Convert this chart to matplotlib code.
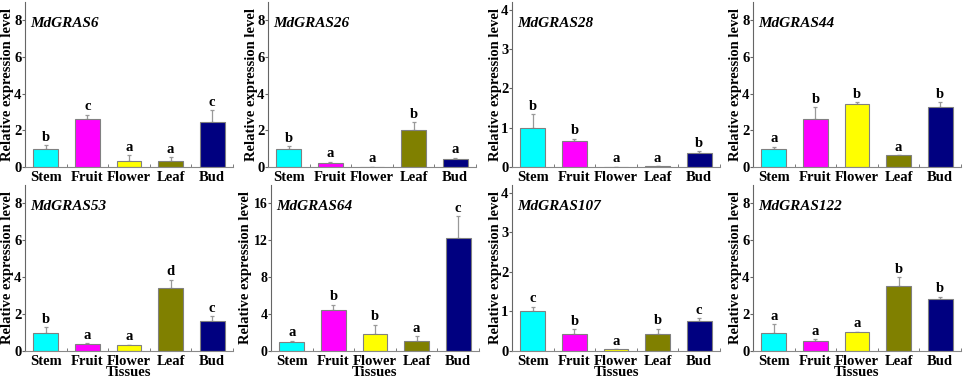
import matplotlib
matplotlib.use("Agg")
import matplotlib.pyplot as plt
import numpy as np

plt.rcParams['font.family'] = ['Liberation Serif', 'DejaVu Serif']
plt.rcParams['font.weight'] = 'bold'

tissues = ["Stem", "Fruit", "Flower", "Leaf", "Bud"]
bar_colors = ["#00FFFF", "#FF00FF", "#FFFF00", "#808000", "#000080"]

genes = ["MdGRAS6", "MdGRAS26", "MdGRAS28", "MdGRAS44",
         "MdGRAS53", "MdGRAS64", "MdGRAS107", "MdGRAS122"]

# mean expression, upper error, significance letters
means = [
    [1.0, 2.6, 0.35, 0.35, 2.45],
    [1.0, 0.2, 0.02, 2.0, 0.45],
    [1.0, 0.65, 0.01, 0.02, 0.35],
    [1.0, 2.6, 3.45, 0.65, 3.25],
    [1.0, 0.38, 0.32, 3.42, 1.6],
    [1.0, 4.4, 1.85, 1.1, 12.3],
    [1.0, 0.42, 0.05, 0.43, 0.76],
    [1.0, 0.55, 1.05, 3.55, 2.8],
]
errors = [
    [0.2, 0.25, 0.3, 0.2, 0.65],
    [0.15, 0.1, 0.0, 0.45, 0.05],
    [0.35, 0.07, 0.0, 0.0, 0.05],
    [0.1, 0.65, 0.1, 0.0, 0.3],
    [0.3, 0.05, 0.03, 0.45, 0.3],
    [0.1, 0.6, 1.0, 0.5, 2.3],
    [0.12, 0.13, 0.0, 0.13, 0.07],
    [0.45, 0.1, 0.0, 0.45, 0.15],
]
letters = [
    ["b", "c", "a", "a", "c"],
    ["b", "a", "a", "b", "a"],
    ["b", "b", "a", "a", "b"],
    ["a", "b", "b", "a", "b"],
    ["b", "a", "a", "d", "c"],
    ["a", "b", "b", "a", "c"],
    ["c", "b", "a", "b", "c"],
    ["a", "a", "a", "b", "b"],
]
ymax = [9, 9, 4.2, 9, 9, 18, 4.2, 9]
yticks = [range(0, 9, 2), range(0, 9, 2), range(0, 5), range(0, 9, 2),
          range(0, 9, 2), range(0, 17, 4), range(0, 5), range(0, 9, 2)]

W, H = 964, 381
fig = plt.figure(figsize=(W / 100, H / 100), dpi=100)

lefts = [25, 268, 512, 753, 25, 271, 512, 753]
width_px = 208
rows = [(2, 167), (185, 351)]

for k, gene in enumerate(genes):
    r, c = divmod(k, 4)
    top, bot = rows[r]
    hpx = bot - top
    ax = fig.add_axes([lefts[k] / W, 1 - bot / H, width_px / W, hpx / H])
    x = np.arange(len(tissues))
    ax.bar(x, means[k], width=0.6, color=bar_colors, edgecolor="#808080",
           linewidth=0.8, zorder=2)
    ax.errorbar(x, means[k], yerr=[np.zeros(5), errors[k]], fmt="none",
                ecolor="#999999", elinewidth=0.9, capsize=1.5, capthick=0.9, zorder=1)
    for i in range(5):
        ax.annotate(letters[k][i], (x[i], means[k][i] + errors[k][i]),
                    xytext=(0, 1), textcoords="offset points",
                    ha="center", va="bottom", fontsize=10.5, fontweight="bold")
    two_digit = max(yticks[k]) >= 10
    ax.set_xlim(-0.5, 4.5)
    ax.set_ylim(0, ymax[k])
    ax.set_yticks(list(yticks[k]))
    ax.set_xticks(x)
    ax.set_xticklabels(tissues, fontsize=10.5, fontweight="bold")
    ax.set_xticks(np.arange(-0.5, 5, 1), minor=True)
    ax.tick_params(axis="x", which="major", length=0, pad=3)
    ax.tick_params(axis="x", which="minor", direction="in", length=2, color="#666666")
    ax.tick_params(axis="y", direction="out", length=2, color="#666666",
                   labelsize=10 if two_digit else 10.5, pad=0.5)
    for lab in ax.get_yticklabels():
        lab.set_fontweight("bold")
    ax.spines["top"].set_visible(False)
    ax.spines["right"].set_visible(False)
    ax.spines["left"].set_color("#666666")
    ax.spines["bottom"].set_color("#888888")
    ax.spines["bottom"].set_linewidth(0.8)
    ax.set_ylabel("Relative expression level", fontsize=10.5, fontweight="bold",
                  va="center")
    lab_off = 25 if two_digit else 17
    ax.yaxis.set_label_coords(-lab_off / width_px, 0.5)
    if r == 1:
        ax.set_xlabel("Tissues", fontsize=10.5, fontweight="bold", va="center")
        ax.xaxis.set_label_coords(0.5, -22 / hpx)
    ax.text(0.025, 0.87, gene, transform=ax.transAxes, fontsize=11,
            fontweight="bold", style="italic", ha="left", va="center")

fig.savefig("out.png", dpi=100)
